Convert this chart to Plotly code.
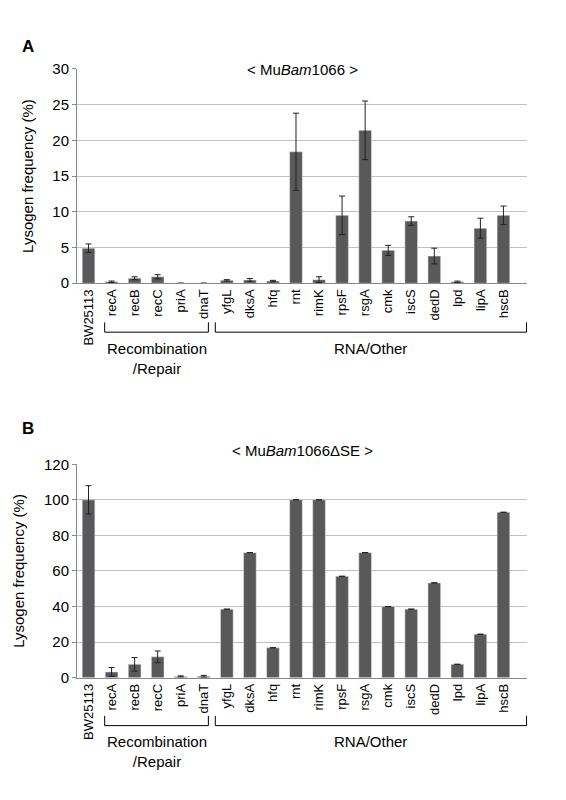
import plotly.graph_objects as go
from plotly.subplots import make_subplots

strains = ["BW25113", "recA", "recB", "recC", "priA", "dnaT", "yfgL", "dksA", "hfq", "rnt",
           "rimK", "rpsF", "rsgA", "cmk", "iscS", "dedD", "lpd", "lipA", "hscB"]
freq_a = [4.9, 0.2, 0.7, 0.9, 0, 0, 0.4, 0.45, 0.3, 18.4, 0.5, 9.5, 21.4, 4.6, 8.7, 3.8, 0.2, 7.7, 9.5]
err_a = [0.6, 0.1, 0.2, 0.3, None, None, 0.1, 0.2, 0.1, 5.4, 0.4, 2.7, 4.1, 0.7, 0.6, 1.1, 0.1, 1.4, 1.3]
freq_b = [100, 3.2, 7.5, 11.7, 0.7, 0.8, 38.5, 70.3, 16.8, 100, 100, 57, 70.3, 40, 38.5, 53.3, 7.5, 24.4, 93]
err_b = [8, 2.5, 3.8, 3.3, 0.3, 0.5] + [None] * 13

FONT = "Liberation Sans, Arial, sans-serif"
BAR = "#595959"

fig = make_subplots(rows=2, cols=1)
for row, (vals, errs) in enumerate([(freq_a, err_a), (freq_b, err_b)], start=1):
    fig.add_trace(go.Bar(
        x=strains, y=vals, marker_color=BAR, width=0.55, showlegend=False,
        error_y=dict(type="data", array=errs, color="#222222", thickness=1, width=3),
    ), row=row, col=1)

dom_x = [69 / 566, 519 / 566]
fig.update_xaxes(domain=dom_x, tickangle=-90, showline=True, linecolor="#888888",
                 ticks="", tickfont=dict(size=13, color="#000"))
fig.update_yaxes(showline=True, linecolor="#888888", gridcolor="#c0c0c0",
                 ticks="outside", ticklen=4, tickcolor="#888888",
                 tickfont=dict(size=15, color="#000"), zeroline=False,
                 title=dict(text="Lysogen frequency (%)", font=dict(size=15, color="#000")))
fig.update_yaxes(domain=[1 - 272 / 800, 1 - 53 / 800], range=[0, 30], dtick=5, row=1, col=1)
fig.update_yaxes(domain=[1 - 675 / 800, 1 - 457 / 800], range=[0, 120], dtick=20, row=2, col=1)

shapes, annos = [], []
for ax, ybar in [("x", 322), ("x2", 724)]:
    yb = 1 - ybar / 800
    yt = 1 - (ybar - 10) / 800
    for x0, x1 in [(0.7, 5.2), (5.5, 19.0)]:
        shapes.append(dict(type="path", xref=ax, yref="paper",
                           path=f"M {x0},{yt} L {x0},{yb} L {x1},{yb} L {x1},{yt}",
                           line=dict(color="#000", width=1)))
    annos.append(dict(xref=ax, yref="paper", x=2.95, y=1 - (ybar + 6) / 800, yanchor="top",
                      text="Recombination<br>/Repair", showarrow=False,
                      font=dict(size=15, family=FONT, color="#000")))
    annos.append(dict(xref=ax, yref="paper", x=12.25, y=1 - (ybar + 6) / 800, yanchor="top",
                      text="RNA/Other", showarrow=False,
                      font=dict(size=15, family=FONT, color="#000")))

for txt, y in [("< Mu<i>Bam</i>1066 >", 43), ("< Mu<i>Bam</i>1066ΔSE >", 443)]:
    annos.append(dict(xref="paper", yref="paper", x=(294) / 566, y=1 - y / 800,
                      text=txt, showarrow=False, font=dict(size=15, family=FONT, color="#000")))
for txt, y in [("<b>A</b>", 18), ("<b>B</b>", 420)]:
    annos.append(dict(xref="paper", yref="paper", x=12 / 566, y=1 - y / 800,
                      text=txt, showarrow=False, font=dict(size=17, family=FONT, color="#000")))

fig.update_layout(width=566, height=800, margin=dict(l=0, r=0, t=0, b=0),
                  plot_bgcolor="white", paper_bgcolor="white", bargap=0.45,
                  font=dict(family=FONT), shapes=shapes, annotations=annos)
fig.write_html("out.html")
